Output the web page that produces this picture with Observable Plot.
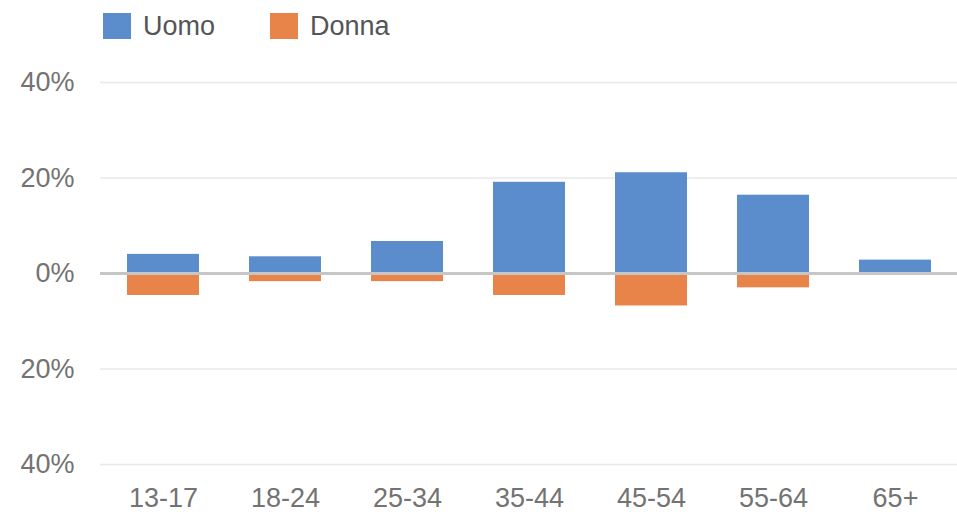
<!DOCTYPE html>
<html>
<head>
<meta charset="utf-8">
<script src="https://cdn.jsdelivr.net/npm/d3@7"></script>
<script src="https://cdn.jsdelivr.net/npm/@observablehq/plot@0.6"></script>
<style>
  html, body { margin: 0; padding: 0; background: #fff; width: 957px; height: 512px; overflow: hidden; }
  #legend { height: 55px; position: relative; font-family: "Liberation Sans", Arial, sans-serif; font-size: 27px; color: #555; }
  .item { position: absolute; top: 12px; display: flex; align-items: center; height: 28px; }
  .sw { width: 28px; height: 26px; margin-right: 12px; }
  #chart svg { display: block; }
</style>
</head>
<body>
<div id="legend"></div>
<div id="chart"></div>
<script>
const categories = ["13-17", "18-24", "25-34", "35-44", "45-54", "55-64", "65+"];
const uomo = [4.0, 3.5, 6.7, 19.1, 21.1, 16.4, 2.8];
const donna = [4.6, 1.7, 1.7, 4.6, 6.8, 3.0, 0];
const seriesNames = ["Uomo", "Donna"];
const seriesColors = ["#5b8ccb", "#e8834a"];
const yTicks = [-40, -20, 0, 20, 40];

const legend = document.getElementById("legend");
const lefts = [103, 270];
seriesNames.forEach((name, i) => {
  const it = document.createElement("div");
  it.className = "item";
  it.style.left = lefts[i] + "px";
  it.innerHTML = `<div class="sw" style="background:${seriesColors[i]}"></div><span>${name}</span>`;
  legend.appendChild(it);
});

const rows = [];
categories.forEach((c, i) => {
  rows.push({cat: c, serie: "Uomo", v: uomo[i]});
  rows.push({cat: c, serie: "Donna", v: -donna[i]});
});

const chart = Plot.plot({
  width: 957,
  height: 457,
  marginLeft: 100,
  marginRight: 0,
  marginTop: 27,
  marginBottom: 48,
  style: {fontFamily: "'Liberation Sans', Arial, sans-serif", fontSize: "27px", color: "#737373", background: "#fff"},
  x: {domain: categories, paddingInner: 0.41, paddingOuter: 0.2, label: null},
  y: {domain: [-40, 40], label: null},
  color: {domain: seriesNames, range: seriesColors},
  marks: [
    Plot.ruleY(yTicks.filter(d => d !== 0), {stroke: "#e8e8e8", strokeWidth: 1.5}),
    Plot.barY(rows, {x: "cat", y: "v", fill: "serie"}),
    Plot.ruleY([0], {stroke: "#c6c6c6", strokeWidth: 3}),
    Plot.axisY(yTicks, {tickSize: 0, tickPadding: 26, tickFormat: d => Math.abs(d) + "%", fill: "#737373", fontSize: 27}),
    Plot.axisX({tickSize: 0, tickPadding: 23, fill: "#737373", fontSize: 27, label: null})
  ]
});
document.getElementById("chart").appendChild(chart);
</script>
</body>
</html>
